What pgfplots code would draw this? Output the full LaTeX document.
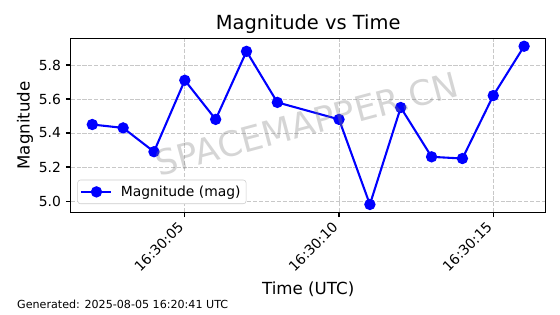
\documentclass[border=0pt]{standalone}
\usepackage{fontspec}
\setmainfont{DejaVu Sans}
\usepackage{pgfplots}
\pgfplotsset{compat=1.18}
\definecolor{gridgray}{HTML}{B0B0B0}
\definecolor{legframe}{HTML}{CCCCCC}
\begin{document}
\begin{tikzpicture}[x=1pt,y=1pt]
\useasboundingbox (-50.9,-73.2) rectangle (352.3,152.9);
\begin{axis}[
  at={(0,0)}, anchor=south west,
  scale only axis, width=342pt, height=125.3pt,
  xmin=1.3, xmax=16.7, ymin=4.9335, ymax=5.9565,
  xtick={5,10,15},
  xticklabels={\rotatebox{45}{16:30:05},\rotatebox{45}{16:30:10},\rotatebox{45}{16:30:15}},
  xticklabel style={anchor=north east, font=\fontsize{10}{12}\selectfont, inner sep=0pt, yshift=-2.5pt, xshift=0pt},
  ytick={5.0,5.2,5.4,5.6,5.8},
  yticklabel style={font=\fontsize{10}{12}\selectfont},
  /pgf/number format/assume math mode=true,
  /pgf/number format/fixed, /pgf/number format/precision=1, /pgf/number format/fixed zerofill,
  tick pos=left, tick align=outside, major tick length=3.5pt,
  every tick/.style={black, line width=0.8pt},
  axis line style={line width=0.8pt},
  grid=major,
  major grid style={gridgray, opacity=0.7, dash pattern=on 2.96pt off 1.28pt, line width=0.5pt},
  legend style={at={(0,0)}, anchor=south west, xshift=4.8pt, yshift=6pt,
    draw=legframe, rounded corners=2pt, font=\fontsize{10}{12}\selectfont,
    inner xsep=2pt, inner ysep=2pt},
  legend cell align=left,
  legend image code/.code={
    \draw[mark repeat=2,mark phase=2] plot coordinates {(0cm,0cm) (0.38cm,0cm) (0.76cm,0cm)};
    \path (0.76cm+4pt,0cm);
  },
]
\addplot[blue, line width=1.5pt, mark=*, mark size=3.3pt, mark options={solid, fill=blue, draw=blue}]
coordinates {
(2,5.45)(3,5.43)(4,5.29)(5,5.71)(6,5.48)(7,5.88)(8,5.58)
(10,5.48)(11,4.98)(12,5.55)(13,5.26)(14,5.25)(15,5.62)(16,5.91)
};
\addlegendentry{Magnitude (mag)}
\end{axis}
\node[rotate=15, font=\fontsize{25}{30}\selectfont, text=gray, opacity=0.33] at (170,64) {SPACEMAPPER.CN};
\node[anchor=base, font=\fontsize{14}{17}\selectfont] at (171,131.6) {Magnitude vs Time};
\node[anchor=base, font=\fontsize{12}{14}\selectfont] at (171,-59.3) {Time (UTC)};
\node[rotate=90, font=\fontsize{12}{14}\selectfont] at (-32.9,62.65) {Magnitude};
\node[anchor=base west, font=\fontsize{8}{10}\selectfont, inner sep=0pt] at (-38.7,-69.1) {Generated: 2025-08-05 16:20:41 UTC};
\end{tikzpicture}
\end{document}
